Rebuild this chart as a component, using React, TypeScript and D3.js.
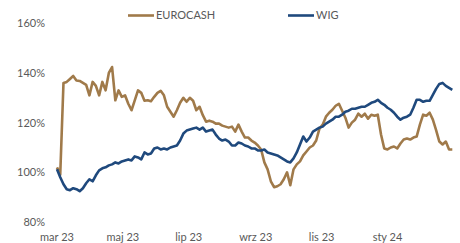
import React, { useEffect, useRef } from "react";
import * as d3 from "d3";

// one reading every 3 calendar days, starting 1 Mar 2023
const startDate = "2023-03-01";
const stepDays = 3;

const eurocash = [
  102, 99, 136, 136.4, 137.6, 138.8, 137, 136.8, 136, 135.2,
  131, 136.4, 134.8, 131, 136.4, 133, 140, 142.4, 129, 133,
  130.4, 131, 127.6, 125, 129, 133, 132, 128.8, 129, 128.6,
  130.4, 132, 132.8, 131, 126.4, 124.4, 122.4, 125, 128, 130,
  128.4, 130, 128.8, 125, 126.4, 123, 120.4, 120.8, 120.4, 119.6,
  119.6, 118.8, 118.4, 118, 118.4, 116.4, 119.2, 116.4, 114, 114,
  112.8, 112, 110.8, 109.2, 104, 101.2, 96.4, 94, 94.4, 95.2,
  97.2, 100, 94.8, 101.2, 103.2, 104.4, 106.8, 108.4, 110, 110.8,
  112.8, 117.6, 119.2, 122.4, 124, 125.2, 126.8, 127.6, 124.8, 122,
  118, 120, 121.2, 123.6, 122.4, 123.6, 121.6, 123.2, 122.8, 123.2,
  115.2, 109.6, 109.2, 110, 110.4, 109.6, 111.6, 113.2, 113.6, 113.2,
  114, 114.4, 119.2, 123.2, 122.8, 124, 121.2, 117, 112.4, 111.2,
  112.4, 109.2, 109.2,
];

const wig = [
  101.2, 98, 95.2, 93.2, 92.8, 93.6, 93.2, 92.4, 93.6, 95.6,
  97.2, 96.4, 98.8, 100.8, 101.6, 102, 102.8, 103.2, 104, 103.6,
  104.4, 104.8, 105.2, 104.8, 106.4, 106, 105.2, 108, 107.2, 107.6,
  109.6, 110, 109.2, 109.6, 109.2, 110, 110.4, 110.8, 112.8, 115.6,
  116.8, 117.2, 117.6, 118, 117.2, 118, 116.4, 116.8, 117.2, 115.2,
  113.6, 112.8, 113.2, 112.4, 110.8, 110.8, 112, 111.6, 110.8, 110.4,
  109.6, 109.6, 108.8, 108.8, 109.2, 108, 107.6, 107.2, 106.8, 106,
  105.2, 104.4, 104, 105.6, 108, 111.2, 114.4, 112.4, 114, 116.4,
  117.2, 118, 118.4, 119.6, 120.4, 121.2, 122.4, 122.4, 123.2, 124.4,
  124.8, 125.6, 125.6, 126, 126.4, 126.4, 127.2, 128, 128.4, 129.2,
  128, 127.2, 126, 125.2, 124, 122.4, 121.2, 122, 122.4, 123.2,
  126, 129.2, 129.2, 128.4, 128.8, 128.8, 131.2, 133.6, 135.6, 136,
  134.8, 134, 133.2,
];

const yTicks = [80, 100, 120, 140, 160];
const xTickDates = ["2023-03-01", "2023-05-01", "2023-07-01", "2023-09-01", "2023-11-01", "2024-01-01"];
const xTickLabels = ["mar 23", "maj 23", "lip 23", "wrz 23", "lis 23", "sty 24"];

const seriesNames = ["EUROCASH", "WIG"];
const seriesColors = ["#a07a4a", "#1f497d"];

const App = () => {
  const ref = useRef<SVGSVGElement>(null);

  useEffect(() => {
    const width = 460;
    const height = 243;
    const font = "Lato, 'Open Sans', sans-serif";
    const svg = d3.select(ref.current);
    svg.selectAll("*").remove();

    const parse = d3.utcParse("%Y-%m-%d");
    const t0 = parse(startDate) as Date;
    const dateAt = (i: number) => d3.utcDay.offset(t0, i * stepDays);

    const x = d3
      .scaleUtc()
      .domain([t0, parse("2024-03-01") as Date])
      .range([57, 452.3]);

    const y = d3.scaleLinear().domain([80, 160]).range([222, 23.3]);

    // y labels
    svg
      .append("g")
      .selectAll("text")
      .data(yTicks)
      .join("text")
      .attr("x", 45)
      .attr("y", (d) => y(d))
      .attr("dy", "0.35em")
      .attr("text-anchor", "end")
      .attr("font-family", font)
      .attr("font-size", 11)
      .attr("fill", "#595959")
      .text((d) => `${d}%`);

    // x labels
    svg
      .append("g")
      .selectAll("text")
      .data(xTickDates)
      .join("text")
      .attr("x", (d) => x(parse(d) as Date))
      .attr("y", 241)
      .attr("text-anchor", "middle")
      .attr("font-family", font)
      .attr("font-size", 11)
      .attr("fill", "#595959")
      .text((d, i) => xTickLabels[i]);

    const line = d3
      .line<number>()
      .x((d, i) => x(dateAt(i)))
      .y((d) => y(d));

    [eurocash, wig].forEach((values, k) => {
      svg
        .append("path")
        .datum(values)
        .attr("d", line)
        .attr("fill", "none")
        .attr("stroke", seriesColors[k])
        .attr("stroke-width", 2.6)
        .attr("stroke-linejoin", "round");
    });

    // legend
    const legendX = [128, 288];
    seriesNames.forEach((name, k) => {
      const g = svg.append("g").attr("transform", `translate(${legendX[k]},15.5)`);
      g.append("line")
        .attr("x1", 0)
        .attr("x2", 26)
        .attr("stroke", seriesColors[k])
        .attr("stroke-width", 2.6);
      g.append("text")
        .attr("x", 28)
        .attr("dy", "0.35em")
        .attr("font-family", font)
        .attr("font-size", 11)
        .attr("fill", "#595959")
        .text(name);
    });

    svg.attr("width", width).attr("height", height);
  }, []);

  return (
    <svg
      ref={ref}
      width={460}
      height={243}
      style={{ position: "absolute", left: 0, top: 0, background: "#fff" }}
    />
  );
};

export default App;
